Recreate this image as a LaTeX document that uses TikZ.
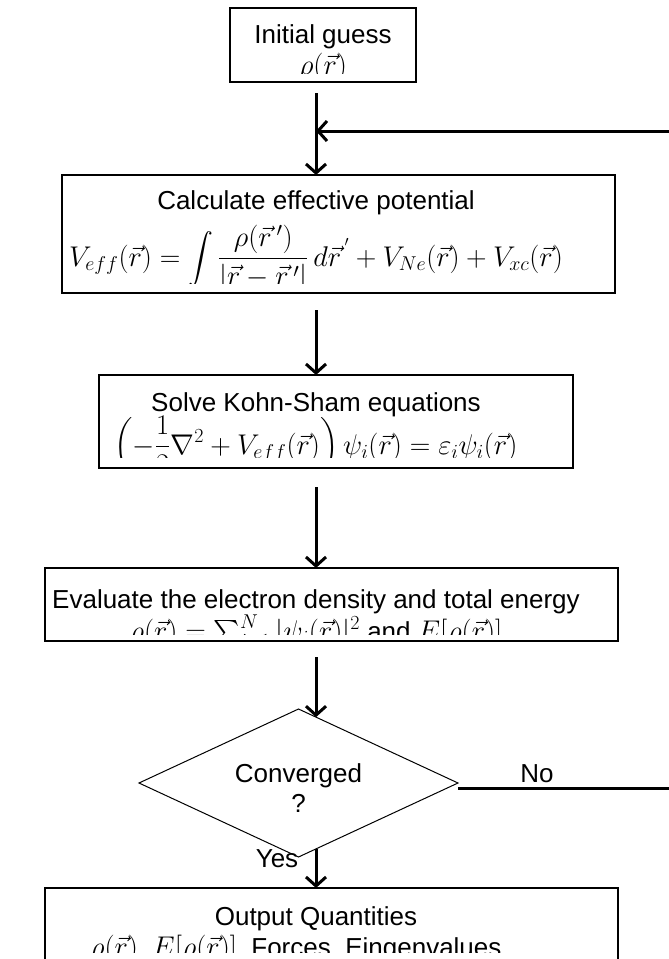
\RequirePackage{fix-cm}
\documentclass[tikz,border=0pt]{standalone}
\usepackage{amsmath}
\usepackage{fontspec}
\setmainfont{Liberation Sans}
\DeclareMathSizes{26}{28.5}{20}{14.5}
\usetikzlibrary{arrows.meta,shapes.geometric}
\tikzset{
  stepbox/.style={draw, line width=1.5pt, inner sep=0pt, outer sep=0pt},
  decision/.style={diamond, draw, line width=1pt, inner sep=0pt, outer sep=0pt,
    minimum width=319pt, minimum height=148pt},
  boxtext/.style={anchor=base, inner sep=0pt, font=\fontsize{26}{30}\selectfont},
  flow/.style={line width=3pt, -{Straight Barb[length=9pt,width=20pt]}},
}
\begin{document}
\begin{tikzpicture}[x=1pt,y=-1pt]
\useasboundingbox (0,0) rectangle (669,959);
\fill[white] (0,0) rectangle (669,959);
\clip (0,0) rectangle (669,959);
\coordinate (spine) at (316,0);

% initial guess
\node[stepbox, minimum width=186, minimum height=74] (init) at (323,45) {};
\begin{scope}
\clip (init.north west) rectangle ([yshift=9pt]init.south east);
\node[boxtext] (initA) at (323,43) {Initial guess};
\node[boxtext] (initB) at (323,74) {$\rho(\vec{r})$};
\end{scope}

% effective potential
\node[stepbox, minimum width=553, minimum height=118] (calc) at (338.5,234) {};
\begin{scope}
\clip (calc.north west) rectangle ([yshift=10pt]calc.south east);
\node[boxtext] (calcA) at (316,209) {Calculate effective potential};
\node[boxtext] (calcB) at (316,266)
{$\displaystyle V_{eff}(\vec{r}) = \int \frac{\rho(\vec{r}\,')}{|\vec{r}-\vec{r}\,'|}\,d\vec{r}^{\,'} + V_{Ne}(\vec{r}) + V_{xc}(\vec{r})$};
\end{scope}

% Kohn-Sham
\node[stepbox, minimum width=474, minimum height=93] (solve) at (336,421.5) {};
\begin{scope}
\clip (solve.north west) rectangle ([yshift=11pt]solve.south east);
\node[boxtext] (solveA) at (316,411) {Solve Kohn-Sham equations};
\node[boxtext] (solveB) at (316,454)
{$\displaystyle \left(-\frac{1}{2}\nabla^2 + V_{eff}(\vec{r})\right)\psi_i(\vec{r}) = \varepsilon_i\psi_i(\vec{r})$};
\end{scope}

% density and energy
\node[stepbox, minimum width=573, minimum height=73] (eval) at (331.5,604.5) {};
\begin{scope}
\clip (eval.north west) rectangle ([yshift=7pt]eval.south east);
\node[boxtext] (evalA) at (316,608) {Evaluate the electron density and total energy};
\node[boxtext] (evalB) at (316,640)
{$\rho(\vec{r}) = \sum_{i=1}^{N}|\psi_i(\vec{r})|^2$ and $E[\rho(\vec{r})]$};
\end{scope}

% convergence test
\node[decision] (conv) at (298.5,783) {};
\node[boxtext] (convA) at (298.5,782) {Converged};
\node[boxtext] (convB) at (298.5,812) {?};

% output
\node[stepbox, minimum width=573, minimum height=77] (out) at (331.5,926.5) {};
\begin{scope}
\clip (out.north west) rectangle (618,952);
\node[boxtext] (outA) at (316,925) {Output Quantities};
\node[boxtext] (outB) at (316,956)
{$\rho(\vec{r})$, $E[\rho(\vec{r})]$, Forces, Eingenvalues, …};
\end{scope}

% arrows
\coordinate (loopR) at (670.5,131);
\draw[flow, shorten <=11pt] (init.south -| spine) -- (calc.north -| spine);
\draw[flow, shorten <=17pt] (calc.south -| spine) -- (solve.north -| spine);
\draw[flow, shorten <=19pt] (solve.south -| spine) -- (eval.north -| spine);
\draw[flow, shorten <=16pt] (eval.south -| spine) -- (conv.75 -| spine);
\draw[flow] (conv.-75 -| spine) -- (out.north -| spine);
\draw[flow] ([yshift=-5pt]conv.east) -| (loopR) -- (loopR -| spine);

\node[boxtext] (no) at (537,782) {No};
\node[boxtext] (yes) at (277,867) {Yes};
\end{tikzpicture}
\end{document}
